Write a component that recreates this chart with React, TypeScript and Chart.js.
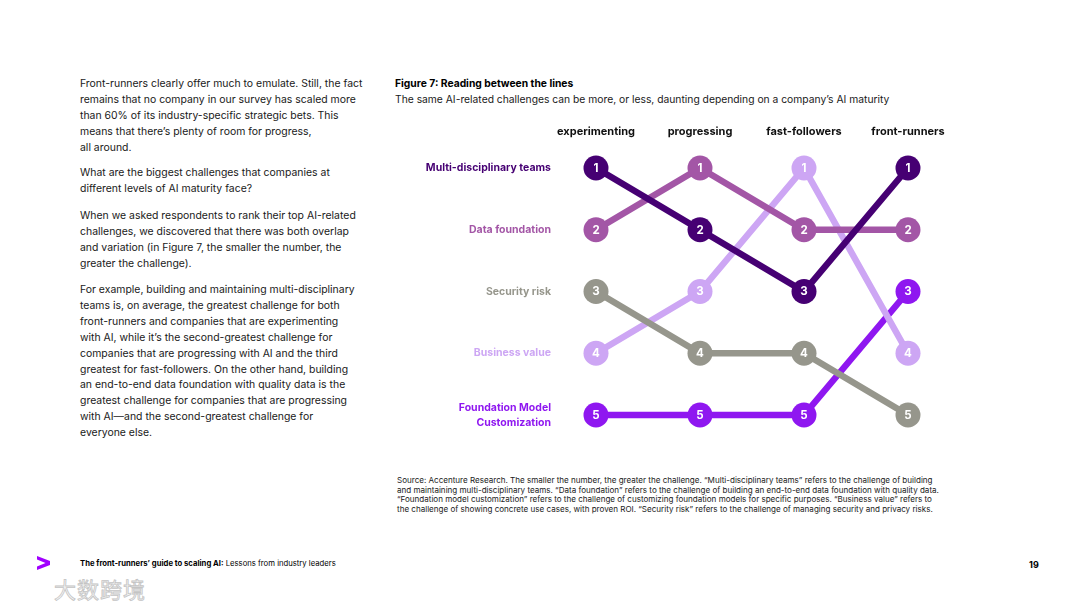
import React, { useEffect, useRef } from "react";
import { Chart, registerables } from "chart.js";

Chart.register(...registerables);

const FONT = "Inter, 'Open Sans', Arial, sans-serif";

const stages = ["experimenting", "progressing", "fast-followers", "front-runners"];
const challengeNames = [
  "Multi-disciplinary teams",
  "Data foundation",
  "Security risk",
  "Business value",
  "Foundation Model Customization",
];
const rowLabels = [
  ["Multi-disciplinary teams"],
  ["Data foundation"],
  ["Security risk"],
  ["Business value"],
  ["Foundation Model", "Customization"],
];
const multiDisciplinaryTeams = [1, 2, 3, 1];
const dataFoundation = [2, 1, 2, 2];
const securityRisk = [3, 4, 4, 5];
const businessValue = [4, 3, 1, 4];
const foundationModelCustomization = [5, 5, 5, 3];
const seriesValues = [
  multiDisciplinaryTeams,
  dataFoundation,
  securityRisk,
  businessValue,
  foundationModelCustomization,
];
const seriesColors = ["#460073", "#A356A6", "#96968C", "#CDA6F4", "#8F17F0"];

const leftParagraphs = [
  [
    "Front-runners clearly offer much to emulate. Still, the fact",
    "remains that no company in our survey has scaled more",
    "than 60% of its industry-specific strategic bets. This",
    "means that there’s plenty of room for progress,",
    "all around.",
  ],
  ["What are the biggest challenges that companies at", "different levels of AI maturity face?"],
  [
    "When we asked respondents to rank their top AI-related",
    "challenges, we discovered that there was both overlap",
    "and variation (in Figure 7, the smaller the number, the",
    "greater the challenge).",
  ],
  [
    "For example, building and maintaining multi-disciplinary",
    "teams is, on average, the greatest challenge for both",
    "front-runners and companies that are experimenting",
    "with AI, while it’s the second-greatest challenge for",
    "companies that are progressing with AI and the third",
    "greatest for fast-followers. On the other hand, building",
    "an end-to-end data foundation with quality data is the",
    "greatest challenge for companies that are progressing",
    "with AI—and the second-greatest challenge for",
    "everyone else.",
  ],
];
const paragraphTops = [76, 165, 208, 282];

const sourceLines = [
  "Source: Accenture Research. The smaller the number, the greater the challenge. “Multi-disciplinary teams” refers to the challenge of building",
  "and maintaining multi-disciplinary teams. “Data foundation” refers to the challenge of building an end-to-end data foundation with quality data.",
  "“Foundation model customization” refers to the challenge of customizing foundation models for specific purposes. “Business value” refers to",
  "the challenge of showing concrete use cases, with proven ROI. “Security risk” refers to the challenge of managing security and privacy risks.",
];

const rankLabelPlugin = {
  id: "rankLabels",
  afterDatasetsDraw(chart: any) {
    const ctx = chart.ctx;
    chart.data.datasets.forEach((ds: any, i: number) => {
      const meta = chart.getDatasetMeta(i);
      meta.data.forEach((pt: any, j: number) => {
        ctx.save();
        ctx.fillStyle = "#ffffff";
        ctx.font = `bold 11.5px ${FONT}`;
        ctx.textAlign = "center";
        ctx.textBaseline = "middle";
        ctx.fillText(String(ds.data[j]), pt.x, pt.y + 0.5);
        ctx.restore();
      });
    });
  },
};

function BumpChart() {
  const ref = useRef<HTMLCanvasElement | null>(null);
  useEffect(() => {
    if (!ref.current) return;
    const chart = new Chart(ref.current, {
      type: "line",
      data: {
        labels: stages,
        datasets: seriesValues.map((vals, i) => ({
          label: challengeNames[i],
          data: vals,
          borderColor: seriesColors[i],
          backgroundColor: seriesColors[i],
          pointBackgroundColor: seriesColors[i],
          pointBorderWidth: 0,
          pointRadius: 12.5,
          borderWidth: 6.5,
          tension: 0,
          clip: false,
          fill: false,
        })),
      },
      options: {
        animation: false,
        responsive: false,
        maintainAspectRatio: false,
        layout: { padding: { left: 0, right: 52, top: 0, bottom: 25 } },
        plugins: { legend: { display: false }, tooltip: { enabled: false } },
        scales: {
          x: {
            type: "category",
            position: "top",
            offset: false,
            grid: { display: false, drawTicks: false },
            border: { display: false },
            ticks: {
              color: "#111111",
              font: { family: FONT, size: 11, weight: "bold" },
              padding: 30,
              maxRotation: 0,
              autoSkip: false,
            },
            afterFit: (s: any) => {
              s.height = 58;
              s.paddingLeft = 0;
              s.paddingRight = 0;
            },
          },
          y: {
            type: "linear",
            reverse: true,
            min: 1,
            max: 5,
            grid: { display: false, drawTicks: false },
            border: { display: false },
            ticks: {
              stepSize: 1,
              padding: 45,
              callback: (v: any) => rowLabels[Number(v) - 1] || "",
              color: (c: any) => seriesColors[(c.tick ? c.tick.value : c.index + 1) - 1] || "#000",
              font: { family: FONT, size: 10.5, weight: "bold", lineHeight: 1.4 },
            },
            afterFit: (s: any) => {
              s.width = 196;
              s.paddingTop = 0;
              s.paddingBottom = 0;
            },
          },
        },
      } as any,
      plugins: [rankLabelPlugin],
    });
    return () => chart.destroy();
  }, []);
  return <canvas ref={ref} width={560} height={330} style={{ width: 560, height: 330, display: "block" }} />;
}

export default function App() {
  return (
    <div
      style={{
        position: "fixed",
        left: 0,
        top: 0,
        width: 1080,
        height: 607,
        background: "#ffffff",
        fontFamily: FONT,
        color: "#1a1a1a",
        overflow: "hidden",
      }}
    >
      {leftParagraphs.map((p, i) => (
        <div
          key={i}
          style={{ position: "absolute", left: 80, top: paragraphTops[i], fontSize: 10.45, lineHeight: "15.9px", whiteSpace: "nowrap" }}
        >
          {p.map((l, j) => (
            <div key={j}>{l}</div>
          ))}
        </div>
      ))}
      <div style={{ position: "absolute", left: 395, top: 77, fontSize: 10.3, fontWeight: 700, color: "#000" }}>
        Figure 7: Reading between the lines
      </div>
      <div style={{ position: "absolute", left: 395, top: 93, fontSize: 10.3, whiteSpace: "nowrap" }}>
        The same AI-related challenges can be more, or less, daunting depending on a company’s AI maturity
      </div>
      <div style={{ position: "absolute", left: 400, top: 110 }}>
        <BumpChart />
      </div>
      <div style={{ position: "absolute", left: 397, top: 476, fontSize: 8.05, lineHeight: "9.7px", whiteSpace: "nowrap" }}>
        {sourceLines.map((l, j) => (
          <div key={j}>{l}</div>
        ))}
      </div>
      <svg style={{ position: "absolute", left: 37, top: 556 }} width={14} height={15} viewBox="0 0 14 15">
        <polygon points="0,0 13,5 13,9 0,14 0,10.5 8.5,7 0,3.5" fill="#A100FF" />
      </svg>
      <div style={{ position: "absolute", left: 80, top: 559, fontSize: 7.7, whiteSpace: "nowrap", color: "#000" }}>
        <span style={{ fontWeight: 700 }}>The front-runners’ guide to scaling AI:</span> Lessons from industry leaders
      </div>
      <div style={{ position: "absolute", left: 1029, top: 559, fontSize: 9, fontWeight: 700, color: "#000" }}>19</div>
      <div
        style={{
          position: "absolute",
          left: 54,
          top: 572,
          fontSize: 22,
          fontFamily: "'Noto Sans CJK SC', sans-serif",
          color: "#f6f6f6",
          WebkitTextStroke: "0.8px #c4c4c4",
          letterSpacing: 1,
        }}
      >
        大数跨境
      </div>
    </div>
  );
}
